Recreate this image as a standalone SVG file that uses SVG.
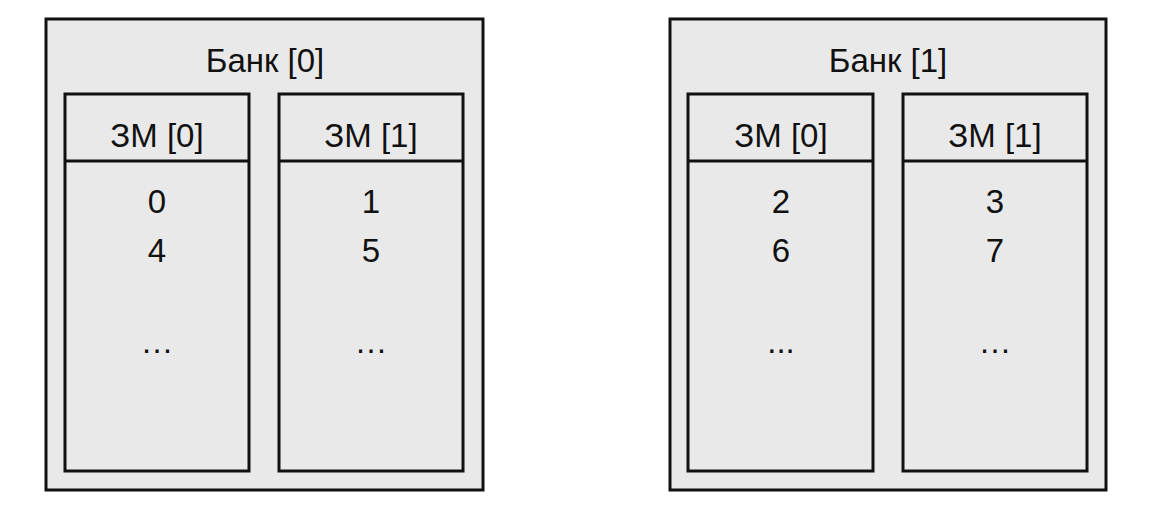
<svg xmlns="http://www.w3.org/2000/svg" width="1154" height="518" viewBox="0 0 1154 518">
<style>
.box{fill:#e9e9e9;stroke:#111;stroke-width:3}
.ln{stroke:#111;stroke-width:3}
text{font-family:"Liberation Sans",Arial,sans-serif;font-size:33px;fill:#111;text-anchor:middle}
</style>
<rect width="1154" height="518" fill="#fff"/>
<g id="bank0">
<rect class="box" x="46" y="19" width="437" height="471"/>
<text x="265" y="72">Банк [0]</text>
</g>
<g id="bank0-zm0">
<rect class="box" x="65" y="94" width="184" height="377"/>
<line class="ln" x1="65" y1="161" x2="249" y2="161"/>
<text x="157" y="147">ЗМ [0]</text>
<text x="157" y="213">0</text>
<text x="157" y="262">4</text>
<text x="157" y="353">…</text>
</g>
<g id="bank0-zm1">
<rect class="box" x="279" y="94" width="184" height="377"/>
<line class="ln" x1="279" y1="161" x2="463" y2="161"/>
<text x="371" y="147">ЗМ [1]</text>
<text x="371" y="213">1</text>
<text x="371" y="262">5</text>
<text x="371" y="353">…</text>
</g>
<g id="bank1">
<rect class="box" x="670" y="19" width="436" height="471"/>
<text x="888" y="72">Банк [1]</text>
</g>
<g id="bank1-zm0">
<rect class="box" x="688" y="94" width="185" height="377"/>
<line class="ln" x1="688" y1="161" x2="873" y2="161"/>
<text x="781" y="147">ЗМ [0]</text>
<text x="781" y="213">2</text>
<text x="781" y="262">6</text>
<text x="781" y="353">...</text>
</g>
<g id="bank1-zm1">
<rect class="box" x="903" y="94" width="184" height="377"/>
<line class="ln" x1="903" y1="161" x2="1087" y2="161"/>
<text x="995" y="147">ЗМ [1]</text>
<text x="995" y="213">3</text>
<text x="995" y="262">7</text>
<text x="995" y="353">…</text>
</g>
<g id="connectors"></g>
</svg>
